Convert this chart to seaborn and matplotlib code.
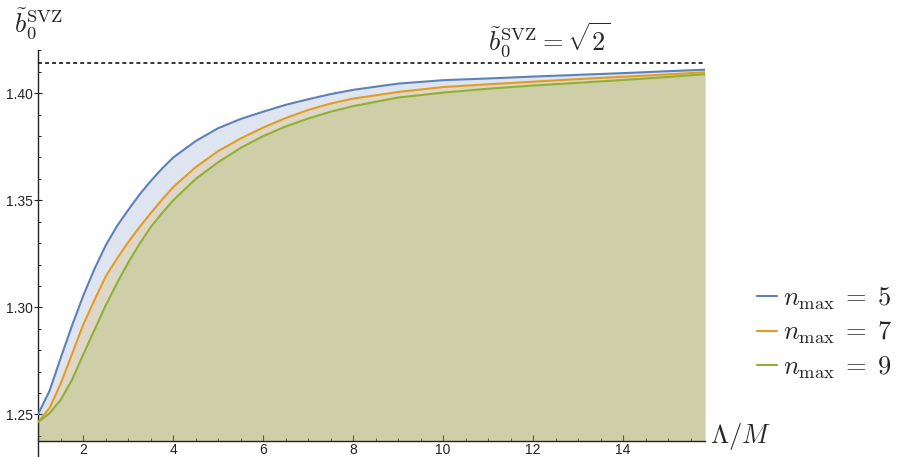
#!/usr/bin/env python3
"""Convergence of b0 SVZ with Lambda/M for several n_max truncations."""

import matplotlib

matplotlib.use("Agg")
import matplotlib.pyplot as plt
import pandas as pd
import seaborn as sns
from matplotlib.lines import Line2D
from matplotlib.ticker import FormatStrFormatter, MultipleLocator

# values
lam_over_m = [1.0, 1.25, 1.5, 1.75, 2.0, 2.25, 2.5, 2.75, 3.0, 3.25, 3.5, 3.75,
              4.0, 4.5, 5.0, 5.5, 6.0, 6.5, 7.0, 7.5, 8.0, 9.0, 10.0, 11.0,
              12.0, 13.0, 14.0, 15.0, 15.82]
b0_nmax5 = [1.2503, 1.2610, 1.2765, 1.2915, 1.3055, 1.3180, 1.3290, 1.3380,
            1.3455, 1.3527, 1.3590, 1.3648, 1.3700, 1.3777, 1.3837, 1.3880,
            1.3914, 1.3946, 1.3972, 1.3996, 1.4016, 1.4045, 1.4061, 1.4069,
            1.4078, 1.4086, 1.4094, 1.4103, 1.4110]
b0_nmax7 = [1.2465, 1.2530, 1.2645, 1.2782, 1.2920, 1.3035, 1.3145, 1.3228,
            1.3305, 1.3375, 1.3440, 1.3503, 1.3562, 1.3655, 1.3730, 1.3789,
            1.3840, 1.3884, 1.3922, 1.3952, 1.3975, 1.4006, 1.4029, 1.4042,
            1.4054, 1.4066, 1.4077, 1.4088, 1.4098]
b0_nmax9 = [1.2465, 1.2505, 1.2568, 1.2662, 1.2780, 1.2895, 1.3010, 1.3113,
            1.3210, 1.3296, 1.3375, 1.3440, 1.3500, 1.3600, 1.3678, 1.3745,
            1.3800, 1.3845, 1.3882, 1.3914, 1.3940, 1.3980, 1.4003, 1.4021,
            1.4036, 1.4049, 1.4062, 1.4076, 1.4089]
series_labels = [r"$n_{\max}\;=\;5$", r"$n_{\max}\;=\;7$", r"$n_{\max}\;=\;9$"]
series_colors = ["#5E81B5", "#E19C24", "#8FB032"]
svz_limit = 2 ** 0.5

y_axis_at = 1.2375

frame = pd.concat(
    [
        pd.DataFrame({"x": lam_over_m, "b0": vals, "series": lab})
        for vals, lab in zip([b0_nmax5, b0_nmax7, b0_nmax9], series_labels)
    ],
    ignore_index=True,
)

sns.set_theme(style="white")
plt.rcParams["font.family"] = ["Liberation Sans", "DejaVu Sans"]
plt.rcParams["mathtext.fontset"] = "cm"

fig = plt.figure(figsize=(9.19, 4.57), dpi=100)
ax = fig.add_axes([38.3 / 919, 0.0, (705 - 38.3) / 919, 407 / 457])

for vals, color in zip([b0_nmax5, b0_nmax7, b0_nmax9], series_colors):
    ax.fill_between(lam_over_m, vals, y_axis_at, color=color, alpha=0.2, lw=0, zorder=1)

sns.lineplot(
    data=frame,
    x="x",
    y="b0",
    hue="series",
    palette=dict(zip(series_labels, series_colors)),
    linewidth=1.5,
    legend=False,
    ax=ax,
    zorder=3,
)

ax.axhline(svz_limit, color="black", lw=1.1, linestyle=(0, (2.6, 2.0)), zorder=4)

ax.set_xlim(1.0, 15.82)
ax.set_ylim(1.2301, 1.4202)
ax.set_xlabel("")
ax.set_ylabel("")

ax.spines["top"].set_visible(False)
ax.spines["right"].set_visible(False)
ax.spines["bottom"].set_position(("data", y_axis_at))
for side in ["left", "bottom"]:
    ax.spines[side].set_color("#222222")
    ax.spines[side].set_linewidth(1.0)

ax.xaxis.set_minor_locator(MultipleLocator(0.5))
ax.yaxis.set_minor_locator(MultipleLocator(0.01))
ax.set_xticks([2, 4, 6, 8, 10, 12, 14])
ax.set_yticks([1.25, 1.30, 1.35, 1.40])
ax.yaxis.set_major_formatter(FormatStrFormatter("%.2f"))

ax.tick_params(axis="x", which="major", direction="in", length=4.5, width=0.8,
               color="#222222", labelsize=10, labelcolor="#222222", pad=1.5)
ax.tick_params(axis="x", which="minor", direction="in", length=2.3, width=0.7,
               color="#222222")
ax.tick_params(axis="y", which="major", direction="inout", length=5.5, width=0.8,
               color="#222222", labelsize=10, labelcolor="#222222", pad=1)
ax.tick_params(axis="y", which="minor", direction="in", length=2.3, width=0.7,
               color="#222222")
ax.tick_params(bottom=True, left=True, which="both")

fig.text(38 / 919, 1 - 24 / 457, r"$\tilde{b}_0^{\mathrm{SVZ}}$", fontsize=19,
         ha="center", va="center")
fig.text(549 / 919, 1 - 40 / 457, r"$\tilde{b}_0^{\mathrm{SVZ}} = \sqrt{2}$",
         fontsize=19, ha="center", va="center")
fig.text(741 / 919, 1 - 437 / 457, r"$\Lambda/M$", fontsize=19,
         ha="center", va="center")

handles = [Line2D([0], [0], color=c, lw=1.5) for c in series_colors]
fig.legend(
    handles,
    series_labels,
    loc="center left",
    bbox_to_anchor=(757 / 919, 1 - 333 / 457),
    frameon=False,
    fontsize=19,
    handlelength=0.75,
    handletextpad=0.25,
    labelspacing=0.3,
    borderpad=0.0,
    borderaxespad=0.0,
)

fig.savefig("out.png", dpi=100)
